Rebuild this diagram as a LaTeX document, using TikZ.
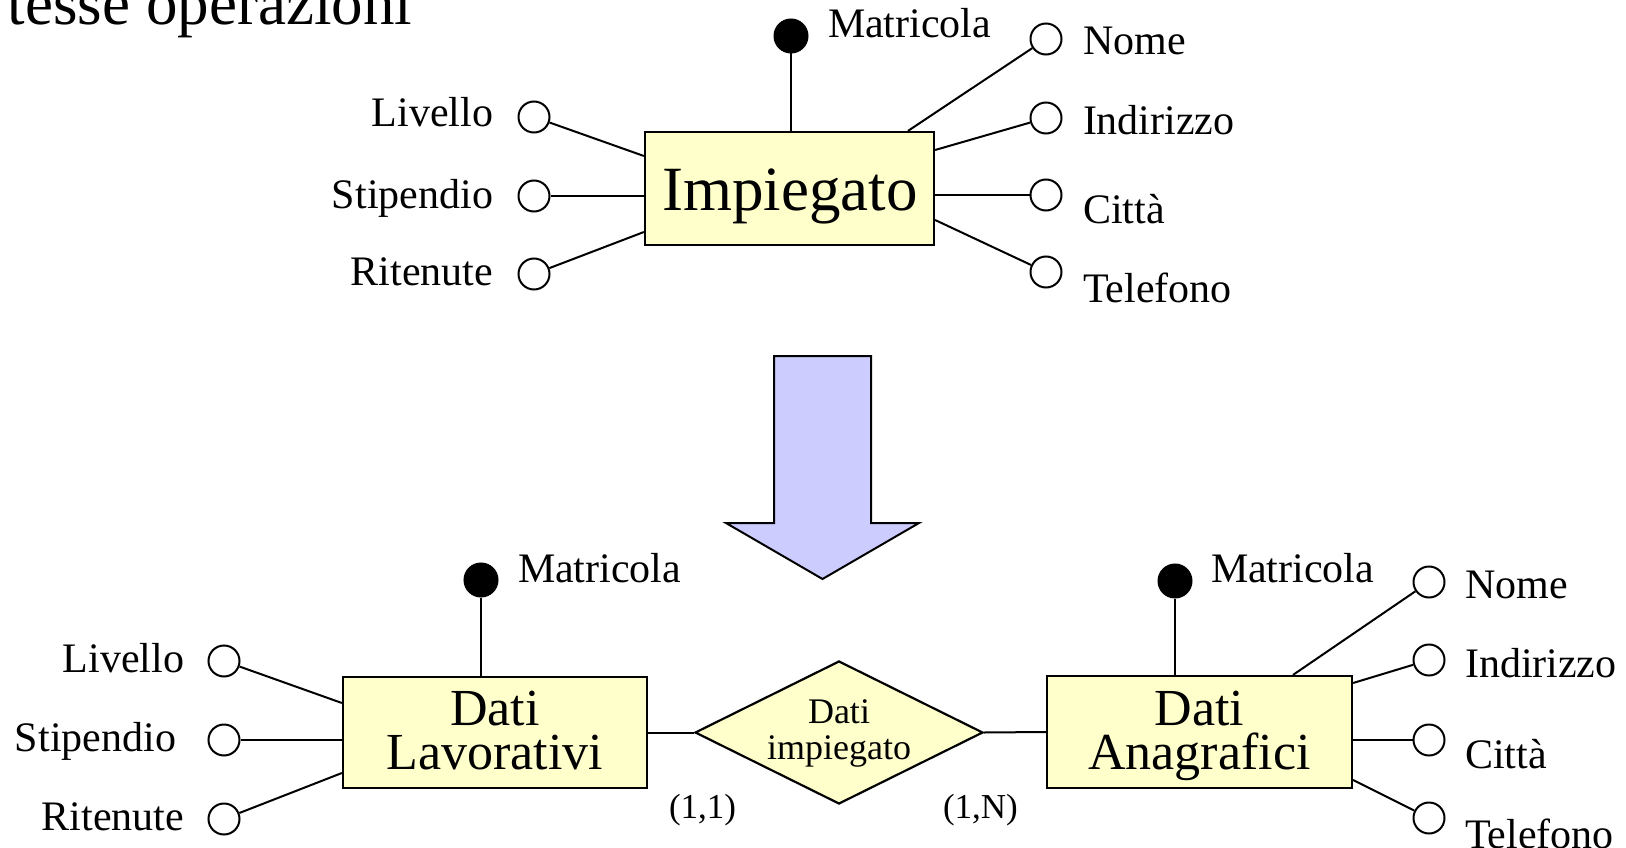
\documentclass[tikz,border=0pt]{standalone}
\usepackage{fontspec}
\setmainfont{Liberation Serif}
\usetikzlibrary{shapes.geometric}
\definecolor{entfill}{HTML}{FFFFCC}
\definecolor{arrowfill}{HTML}{CCCCFF}
\begin{document}
\begin{tikzpicture}[x=1pt,y=-1pt,line width=2pt,
  entity/.style={draw,fill=entfill,rectangle,inner sep=0pt,line width=2.2pt},
  relation/.style={draw,fill=entfill,diamond,inner sep=0pt,line width=2.2pt,
    minimum width=288pt,minimum height=143pt},
  attr/.style={draw,fill=white,circle,minimum size=31pt,inner sep=0pt},
  keyattr/.style={draw,fill=black,circle,minimum size=33pt,inner sep=0pt},
  lab/.style={font=\fontsize{42}{44}\selectfont,inner sep=0pt},
  % two-line names: the base anchor sits on the last line
  entname/.style={font=\fontsize{52}{44}\selectfont,inner sep=0pt,anchor=base,
    align=center},
  bigname/.style={font=\fontsize{63}{63}\selectfont,inner sep=0pt,anchor=base},
  relname/.style={font=\fontsize{36}{36}\selectfont,inner sep=0pt,anchor=base,
    align=center},
  card/.style={font=\fontsize{35}{35}\selectfont,inner sep=0pt,anchor=base west}]
\useasboundingbox (0,0) rectangle (1626,848);

% heading fragment
\node[font=\fontsize{63}{63}\selectfont,inner sep=0pt,anchor=base west] (head) at (7,25) {tesse operazioni};

% ---------- original entity ----------
\node[entity,minimum width=289pt,minimum height=113pt] (imp) at (789.5,188.5) {};
\node[bigname] (impname) at (790,211) {Impiegato};

\node[keyattr] (k0) at (791,36) {};
\draw (k0) -- (k0 |- imp.north);
\node[lab,anchor=base west] (k0l) at (827,38) {Matricola};

\coordinate (i1) at (imp.west |- 0,156);
\coordinate (i2) at (imp.west |- 0,196);
\coordinate (i3) at (imp.west |- 0,232);
\coordinate (i4) at (imp.north -| 908,0);
\coordinate (i5) at (imp.east |- 0,150);
\coordinate (i6) at (imp.east |- 0,195);
\coordinate (i7) at (imp.east |- 0,220);

\node[attr] (a1) at (534,117) {};
\node[attr] (a2) at (534,196) {};
\node[attr] (a3) at (534,274) {};
\node[attr] (a4) at (1046,39) {};
\node[attr] (a5) at (1046,118) {};
\node[attr] (a6) at (1046,195) {};
\node[attr] (a7) at (1046,272) {};
\draw (a1) -- (i1);
\draw (a2) -- (i2);
\draw (a3) -- (i3);
\draw (a4) -- (i4);
\draw (a5) -- (i5);
\draw (a6) -- (i6);
\draw (a7) -- (i7);

\node[lab,anchor=base east] (a1l) at (494,127) {Livello};
\node[lab,anchor=base east] (a2l) at (494,208) {Stipendio};
\node[lab,anchor=base east] (a3l) at (494,285) {Ritenute};
\node[lab,anchor=base west] (a4l) at (1082,55) {Nome};
\node[lab,anchor=base west] (a5l) at (1082,135) {Indirizzo};
\node[lab,anchor=base west] (a6l) at (1082,223) {Città};
\node[lab,anchor=base west] (a7l) at (1082,302) {Telefono};

% ---------- transformation arrow ----------
\draw[fill=arrowfill,line join=miter] (774,356) -- (871,356) -- (871,523) -- (919,523)
  -- (822.5,579) -- (726,523) -- (774,523) -- cycle;

% ---------- split entities ----------
\node[entity,minimum width=304pt,minimum height=111pt] (lav) at (495,732.5) {};
\node[entname] (lavname) at (495,769) {Dati\\Lavorativi};

\node[entity,minimum width=305pt,minimum height=112pt] (ana) at (1199.5,732) {};
\node[entname] (ananame) at (1199.5,769) {Dati\\Anagrafici};

\node[relation] (rel) at (839,732.5) {};
\node[relname] (relname) at (839,759) {Dati\\impiegato};

\draw (lav.east) -- (rel.west);
\draw (rel.east) -- (ana.west);
\node[card] (c1) at (668,818) {(1,1)};
\node[card] (c2) at (942,818) {(1,N)};

% identifiers
\node[keyattr] (k1) at (481,580) {};
\draw (k1) -- (k1 |- lav.north);
\node[lab,anchor=base west] (k1l) at (517,582) {Matricola};

\node[keyattr] (k2) at (1175,581) {};
\draw (k2) -- (k2 |- ana.north);
\node[lab,anchor=base west] (k2l) at (1210,582) {Matricola};

% attributes of Dati Lavorativi
\coordinate (l1) at (lav.west |- 0,703);
\coordinate (l2) at (lav.west |- 0,740);
\coordinate (l3) at (lav.west |- 0,773);
\node[attr] (b1) at (224,661) {};
\node[attr] (b2) at (224,740) {};
\node[attr] (b3) at (224,819) {};
\draw (b1) -- (l1);
\draw (b2) -- (l2);
\draw (b3) -- (l3);
\node[lab,anchor=base east] (b1l) at (185,672) {Livello};
\node[lab,anchor=base east] (b2l) at (177,751) {Stipendio};
\node[lab,anchor=base east] (b3l) at (185,830) {Ritenute};

% attributes of Dati Anagrafici
\coordinate (r1) at (ana.north -| 1293,0);
\coordinate (r2) at (ana.east |- 0,683);
\coordinate (r3) at (ana.east |- 0,740);
\coordinate (r4) at (ana.east |- 0,780);
\node[attr] (d1) at (1429,582) {};
\node[attr] (d2) at (1429,660) {};
\node[attr] (d3) at (1429,740) {};
\node[attr] (d4) at (1429,818) {};
\draw (d1) -- (r1);
\draw (d2) -- (r2);
\draw (d3) -- (r3);
\draw (d4) -- (r4);
\node[lab,anchor=base west] (d1l) at (1464,598) {Nome};
\node[lab,anchor=base west] (d2l) at (1464,677) {Indirizzo};
\node[lab,anchor=base west] (d3l) at (1464,768) {Città};
\node[lab,anchor=base west] (d4l) at (1464,848) {Telefono};
\end{tikzpicture}
\end{document}
